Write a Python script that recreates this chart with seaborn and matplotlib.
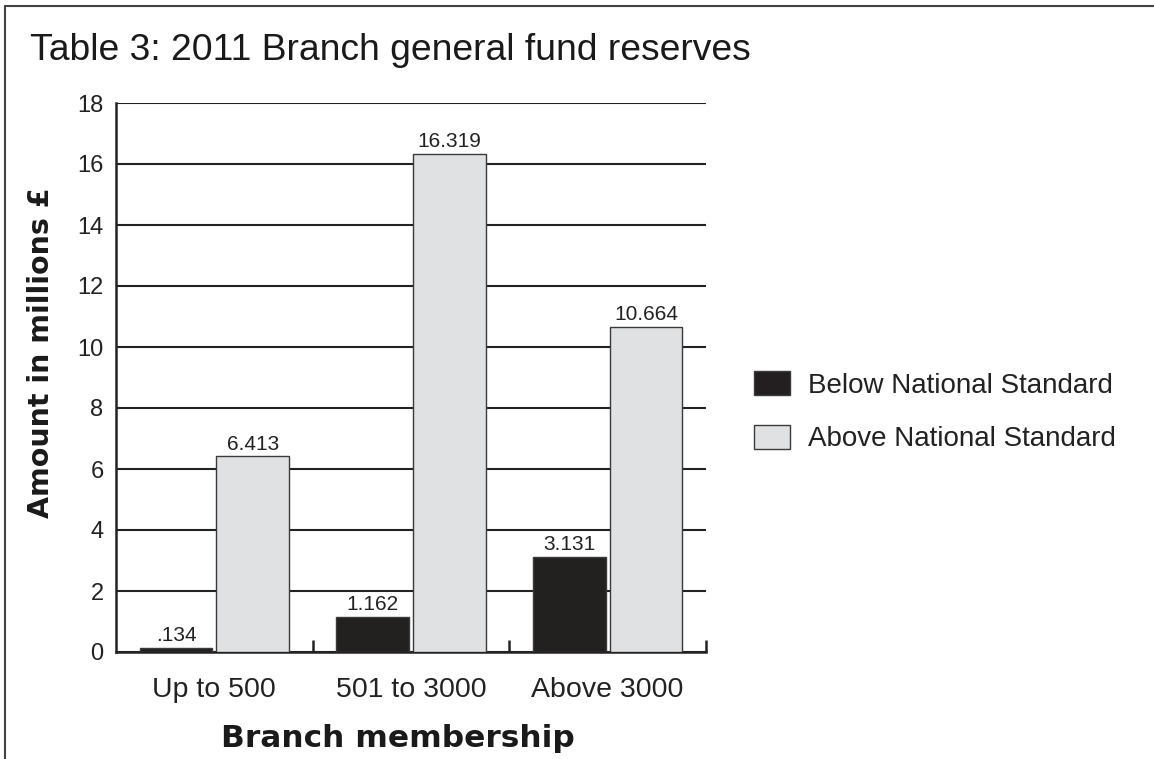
import matplotlib
matplotlib.use("Agg")
import matplotlib.pyplot as plt
import matplotlib.lines as mlines
import seaborn as sns
import pandas as pd
from matplotlib.ticker import FixedLocator

categories = ["Up to 500", "501 to 3000", "Above 3000"]
series_names = ["Below National Standard", "Above National Standard"]
below_values = [0.134, 1.162, 3.131]
above_values = [6.413, 16.319, 10.664]
y_ticks = [0, 2, 4, 6, 8, 10, 12, 14, 16, 18]

title = "Table 3: 2011 Branch general fund reserves"
x_label = "Branch membership"
y_label = "Amount in millions £"

df = pd.DataFrame({
    "Branch membership": categories * 2,
    "Standard": [series_names[0]] * 3 + [series_names[1]] * 3,
    "Amount": below_values + above_values,
})

sns.set_theme(style="white")
plt.rcParams["font.family"] = ["Liberation Sans", "DejaVu Sans"]

fig = plt.figure(figsize=(11.54, 7.59), dpi=100)
ax = fig.add_axes([116 / 1154, 1 - 652 / 759, 590 / 1154, 549 / 759])

colors = ["#231f20", "#e0e1e3"]
sns.barplot(data=df, x="Branch membership", y="Amount", hue="Standard",
            order=categories, hue_order=series_names, palette=colors,
            width=0.78, gap=0.05, edgecolor="#3a3a3a", linewidth=1.0,
            ax=ax, zorder=3)

ax.set_ylim(0, 18)
ax.set_xlim(-0.5, 2.5)
ax.yaxis.set_major_locator(FixedLocator(y_ticks))
ax.yaxis.grid(True, color="#222222", linewidth=1.5, zorder=0)
ax.set_axisbelow(True)
for sp in ["top", "right"]:
    ax.spines[sp].set_visible(False)
for sp in ["left", "bottom"]:
    ax.spines[sp].set_color("#222222")
    ax.spines[sp].set_linewidth(1.8)

ax.tick_params(axis="y", length=0, pad=9, labelsize=17, labelcolor="#222222")
ax.tick_params(axis="x", which="major", length=0, pad=18, labelsize=20.5, labelcolor="#222222")
ax.xaxis.set_minor_locator(FixedLocator([0.5, 1.5, 2.5]))
ax.tick_params(axis="x", which="minor", direction="in", length=9, width=1.8,
               color="#222222", bottom=True)

# value labels
for cont in ax.containers:
    labels = [f"{b.get_height():.3f}".lstrip("0") for b in cont]
    ax.bar_label(cont, labels=labels, padding=2, fontsize=15, color="#222222")

ax.set_xlabel(x_label, family=["DejaVu Sans"], weight="bold", size=22.5, color="#1a1a1a")
ax.set_ylabel(y_label, family=["DejaVu Sans"], weight="bold", size=20.5, color="#1a1a1a")
ax.xaxis.set_label_coords(0.478, -0.132)
ax.yaxis.set_label_coords(-0.103, 0.545)

if ax.get_legend() is not None:
    ax.get_legend().remove()
handles = [plt.Rectangle((0, 0), 1, 1, facecolor=colors[0], edgecolor="#3a3a3a", linewidth=1),
           plt.Rectangle((0, 0), 1, 1, facecolor=colors[1], edgecolor="#3a3a3a", linewidth=1)]
fig.legend(handles, series_names, loc="upper left",
           bbox_to_anchor=(754 / 1154, 1 - 371 / 759), frameon=False,
           fontsize=20, handlelength=1.3, handleheight=0.95, handletextpad=0.65,
           labelspacing=0.95, borderpad=0, borderaxespad=0, labelcolor="#222222")

fig.text(30 / 1154, 1 - 50 / 759, title, fontsize=26.8, va="center", ha="left",
         color="#1a1a1a", weight="medium")

# outer frame lines
fig.add_artist(mlines.Line2D([5 / 1154, 1], [1 - 6 / 759, 1 - 6 / 759],
                             transform=fig.transFigure, color="#444444", linewidth=1.5))
fig.add_artist(mlines.Line2D([5 / 1154, 5 / 1154], [0, 1 - 6 / 759],
                             transform=fig.transFigure, color="#444444", linewidth=1.5))

fig.savefig("out.png", dpi=100)
